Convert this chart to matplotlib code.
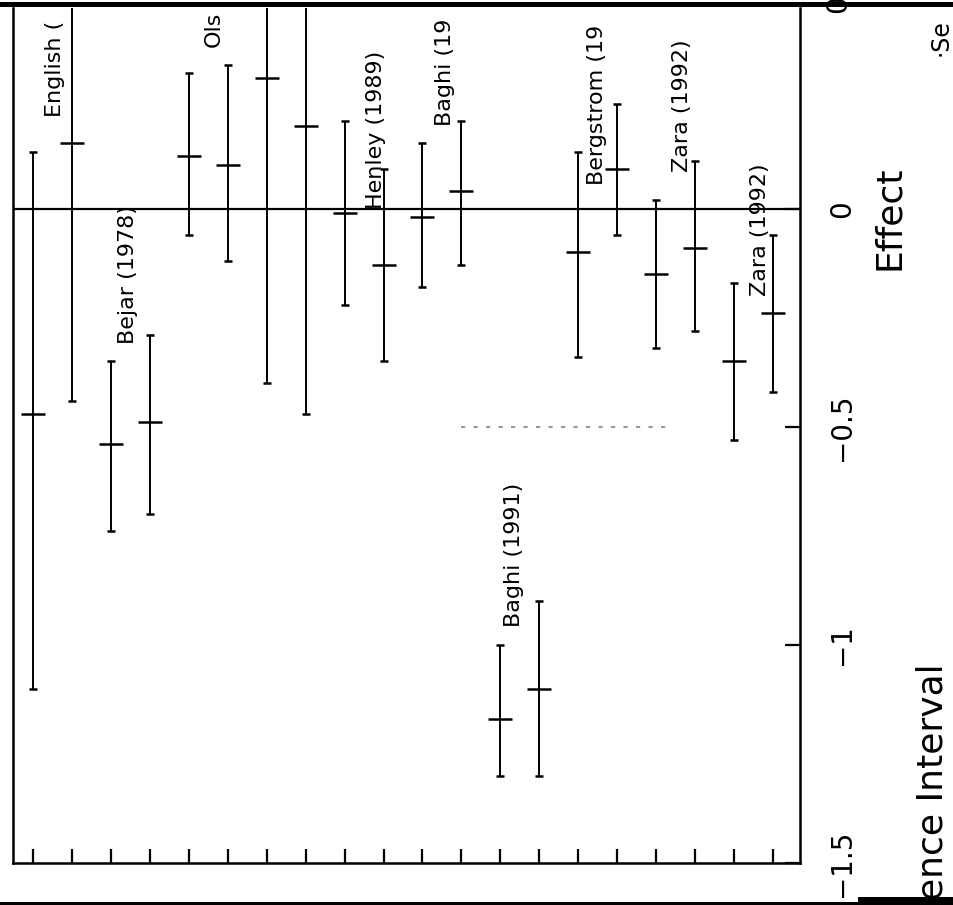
import matplotlib.pyplot as plt
import numpy as np
from matplotlib.patches import Rectangle

# study index along the (rotated) horizontal axis
studies = np.arange(1, 21)

# effect estimates and 95% confidence limits
estimate = [-0.47, 0.15, -0.54, -0.49, 0.12, 0.10, 0.30, 0.19, -0.01, -0.13,
            -0.02, 0.04, -1.17, -1.10, -0.10, 0.09, -0.15, -0.09, -0.35, -0.24]
lower = [-1.10, -0.44, -0.74, -0.70, -0.06, -0.12, -0.40, -0.47, -0.22, -0.35,
         -0.18, -0.13, -1.30, -1.30, -0.34, -0.06, -0.32, -0.28, -0.53, -0.42]
upper = [0.13, 0.74, -0.35, -0.29, 0.31, 0.33, 1.00, 0.84, 0.20, 0.09,
         0.15, 0.20, -1.00, -0.90, 0.13, 0.24, 0.02, 0.11, -0.17, -0.06]

# study labels (only the parts visible in the cropped scan)
label_text = ['English (', 'Bejar (1978)', 'Ols', 'Henley (1989)', 'Baghi (19',
              'Baghi (1991)', 'Bergstrom (19', 'Zara (1992)', 'Zara (1992)']
label_x = [1.56, 3.45, 5.65, 9.81, 11.58, 13.35, 15.49, 17.65, 19.65]
label_y = [0.21, -0.31, 0.37, 0.0, 0.19, -0.96, 0.055, 0.085, -0.20]

effect_ticks = [0, -0.5, -1, -1.5]
effect_labels = ['0', '\u22120.5', '\u22121', '\u22121.5']

est = np.array(estimate)
lo = np.array(lower)
hi = np.array(upper)

fig = plt.figure(figsize=(9.54, 9.05), dpi=100)
ax = fig.add_axes([0.0136, 0.0464, 0.825, 0.9448])

ax.axhline(0, color='black', lw=1.6, zorder=1)
ax.hlines(-0.5, 12.0, 17.3, color='0.6', lw=1.5, linestyles=(0, (2, 4)))

ax.errorbar(studies, est, yerr=[est - lo, hi - est], fmt='none',
            ecolor='black', elinewidth=1.4, capsize=3.2, capthick=1.8)
ax.plot(studies, est, linestyle='none', marker='_', markersize=17,
        markeredgewidth=1.8, color='black')

for t, x, y in zip(label_text, label_x, label_y):
    ax.text(x, y, t, rotation=90, rotation_mode='anchor', ha='left',
            va='center', fontsize=16, clip_on=True)

ax.set_xlim(0.49, 20.69)
ax.set_ylim(-1.5, 0.46)

for side in ['left', 'bottom', 'right']:
    ax.spines[side].set_linewidth(1.8)
ax.spines['top'].set_visible(False)

ax.set_xticks(studies)
ax.tick_params(axis='x', direction='in', length=10, width=1.6,
               labelbottom=False, top=False)

ax.yaxis.tick_right()
ax.set_yticks(effect_ticks)
ax.set_yticklabels(effect_labels)
ax.tick_params(axis='y', direction='in', length=11, width=1.6,
               labelsize=20, pad=20, left=False)
for lbl in ax.get_yticklabels():
    lbl.set_rotation(90)
    lbl.set_va('center')

# axis text on the right, partly cut off by the page edge
ytr = ax.get_yaxis_transform()
ax.text(1.048, 0.5, '0.5', transform=ytr, rotation=90, ha='center',
        va='center', fontsize=20, clip_on=False)
ax.text(1.113, -0.02, 'Effect', transform=ytr, rotation=90, ha='center',
        va='center', fontsize=26, clip_on=False)
ax.text(1.168, -1.585, 'ence Interval', transform=ytr, rotation=90,
        rotation_mode='anchor', ha='left', va='center', fontsize=26,
        clip_on=False)
ax.text(1.179, 0.35, '\u00b7Se', transform=ytr, rotation=90,
        rotation_mode='anchor', ha='left', va='center', fontsize=17,
        clip_on=False)

# scan edges
fig.add_artist(Rectangle((0, 1 - 7 / 905), 1, 5 / 905, transform=fig.transFigure,
                         color='black', lw=0))
fig.add_artist(Rectangle((0, 0), 1, 3 / 905, transform=fig.transFigure,
                         color='black', lw=0))
fig.add_artist(Rectangle((858 / 954, 0), 1, 8 / 905, transform=fig.transFigure,
                         color='black', lw=0))

fig.savefig('out.png', dpi=100)
